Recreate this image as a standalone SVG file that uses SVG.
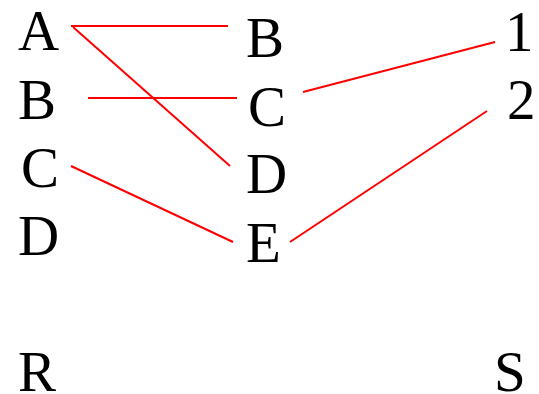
<svg xmlns="http://www.w3.org/2000/svg" width="539" height="394" viewBox="0 0 539 394">
<style>
text{font-family:"Liberation Serif","Times New Roman",serif;font-size:57px;fill:#000}
.c{stroke:#ff0000;stroke-width:2;fill:none}
.d{stroke:#ff0000;stroke-width:2;fill:none}
</style>
<rect width="539" height="394" fill="#fff"/>
<g id="connectors">
<line class="c" x1="71" y1="26" x2="228" y2="26"/>
<line class="d" x1="73" y1="27" x2="230" y2="166"/>
<line class="c" x1="88" y1="98" x2="237" y2="98"/>
<line class="d" x1="71" y1="166" x2="233" y2="242"/>
<line class="d" x1="303" y1="92" x2="495" y2="42"/>
<line class="d" x1="290" y1="242" x2="487" y2="111"/>
</g>
<g id="left-A"><text x="18" y="50">A</text></g>
<g id="left-B"><text x="18" y="119">B</text></g>
<g id="left-C"><text x="21" y="187">C</text></g>
<g id="left-D"><text x="18" y="255">D</text></g>
<g id="mid-B"><text x="246" y="57">B</text></g>
<g id="mid-C"><text x="248" y="126">C</text></g>
<g id="mid-D"><text x="246" y="193">D</text></g>
<g id="mid-E"><text x="246" y="262">E</text></g>
<g id="right-1"><text x="505" y="51">1</text></g>
<g id="right-2"><text x="507" y="119">2</text></g>
<g id="R"><text x="18" y="391">R</text></g>
<g id="S"><text x="494" y="391">S</text></g>
</svg>
